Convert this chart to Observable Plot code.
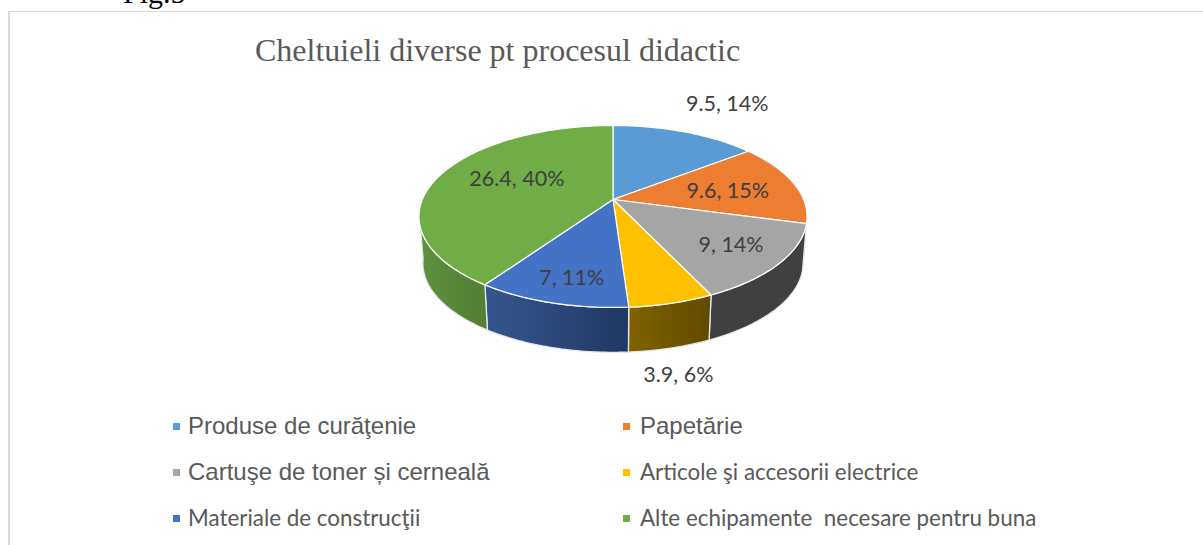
<!DOCTYPE html>
<html><head><meta charset="utf-8">
<script src="https://cdn.jsdelivr.net/npm/d3@7"></script>
<script src="https://cdn.jsdelivr.net/npm/@observablehq/plot@0.6"></script>
<style>
html,body{margin:0;padding:0;background:#fff;}
#page{position:relative;width:1203px;height:545px;overflow:hidden;background:#fff;}
#frame{position:absolute;left:8px;top:11px;width:1200px;height:540px;border:1px solid #d9d9d9;border-left-width:2px;box-sizing:border-box;}
#fig{position:absolute;left:123px;top:-24px;font:30px "Liberation Serif",serif;color:#000;}
#title{position:absolute;left:255px;top:32px;font:32px "Liberation Serif",serif;color:#595959;white-space:pre;}
#chart{position:absolute;left:0;top:88px;}
#chart svg{display:block;}
.lg{position:absolute;white-space:pre;color:#595959;line-height:26px;}
.sw{position:absolute;width:7px;height:7px;}
</style></head>
<body><div id="page">
<div id="frame"></div>
<div id="fig">Fig.5</div>
<div id="title">Cheltuieli diverse pt procesul didactic</div>
<div id="chart"></div>
<div id="legend"></div>
</div>
<script>
const categories = ["Produse de curăţenie","Papetărie","Cartuşe de toner și cerneală","Articole şi accesorii electrice","Materiale de construcţii","Alte echipamente  necesare pentru buna"];
const values = [9.5,9.6,9,3.9,7,26.4];
const percents = [14,15,14,6,11,40];
const colors = ["#5b9bd5","#ed7d31","#a5a5a5","#ffc000","#4472c4","#70ad47"];
const wallFrom = ["#2f5f8c","#a0511c","#404040","#816200","#35578f","#5f9140"];
const wallTo   = ["#2f5f8c","#a0511c","#404040","#614900","#203864","#527f34"];

// layout of the tilted disc
const cx=612.5, cy=199, b=190.6, a=87.8, k=0.1868, depthY=47, shrink=0.98;
const labelNudge=[[65,-49],[-4,3],[15,6],[30,113],[-4,16],[18,-4]];
const legendFonts=['24px "Liberation Sans"','24px "Liberation Sans"','24px "Liberation Sans"','22.4px Lato','22.4px Lato','22.4px Lato'];

const total=d3.sum(values);
const cum=d3.cumsum(values);
const ang=v=>v/total*2*Math.PI;
function pt(t,r=1,floor=false){
  const u=r*Math.sin(t), v=-r*Math.cos(t), d=1-k*v;
  let x=u*b/d, y=v*a/d;
  if(floor){x*=shrink;y=y*shrink+depthY;}
  return {x:cx+x,y:cy+y};
}
function arc(t0,t1,floor=false){
  const n=Math.max(2,Math.ceil((t1-t0)/(Math.PI/180))), out=[];
  for(let i=0;i<=n;i++) out.push(pt(t0+(t1-t0)*i/n,1,floor));
  return out;
}
const slices=values.map((v,i)=>({i,t0:ang(cum[i]-v),t1:ang(cum[i])}));
const visFrom=100*Math.PI/180, visTo=262*Math.PI/180;

const marks=[];
marks.push(()=>{
  const defs=d3.create("svg:defs");
  slices.forEach(s=>{
    const g=defs.append("linearGradient").attr("id","wall"+s.i);
    g.append("stop").attr("offset","0").attr("stop-color",wallFrom[s.i]);
    g.append("stop").attr("offset","1").attr("stop-color",wallTo[s.i]);
  });
  return defs.node();
});
// walls
slices.forEach(s=>{
  const t0=Math.max(s.t0,visFrom), t1=Math.min(s.t1,visTo);
  if(t1<=t0) return;
  const top=arc(t0,t1), bot=arc(t0,t1,true).reverse();
  const poly=[...top,...bot,top[0]];
  marks.push(Plot.line(poly,{x:"x",y:"y",fill:`url(#wall${s.i})`,stroke:"#e8e8e8",strokeWidth:1.3,curve:"linear"}));
});
// top faces
slices.forEach(s=>{
  const apex={x:cx,y:cy};
  const poly=[apex,...arc(s.t0,s.t1),apex];
  marks.push(Plot.line(poly,{x:"x",y:"y",fill:colors[s.i],stroke:"#fff",strokeWidth:1.2,curve:"linear",strokeLinejoin:"round"}));
});
// data labels
const labels=slices.map(s=>{
  const p=pt((s.t0+s.t1)/2,0.65);
  return {x:p.x+labelNudge[s.i][0],y:p.y+labelNudge[s.i][1],text:`${values[s.i]}, ${percents[s.i]}%`};
});
marks.push(Plot.text(labels,{x:"x",y:"y",text:"text",fill:"#404040",fontSize:21.5,fontFamily:"Lato",textAnchor:"middle",stroke:null}));

const plot=Plot.plot({
  width:1203,height:304,margin:0,
  x:{domain:[0,1203],range:[0,1203],axis:null},
  y:{domain:[88,392],range:[0,304],axis:null},
  style:{background:"transparent"},
  marks
});
document.getElementById("chart").append(plot);

// legend
const legend=document.getElementById("legend");
const rowY=[426,472,518], colX=[173,623], textX=[188,640];
categories.forEach((c,i)=>{
  const col=i%2,row=Math.floor(i/2);
  const sw=document.createElement("div");sw.className="sw";
  sw.style.cssText=`left:${colX[col]}px;top:${rowY[row]-3}px;background:${colors[i]}`;
  legend.append(sw);
  const d=document.createElement("div");d.className="lg";
  d.style.cssText=`left:${textX[col]}px;top:${rowY[row]-13}px;font:${legendFonts[i]};line-height:26px`;
  d.textContent=c;
  legend.append(d);
});
</script>
</body></html>
